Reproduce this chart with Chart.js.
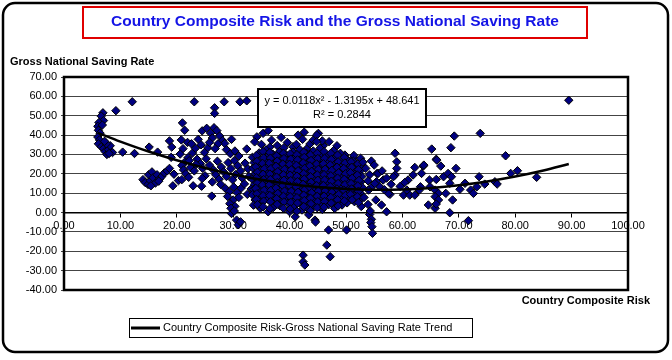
<!DOCTYPE html>
<html>
<head>
<meta charset="utf-8">
<script src="https://cdn.jsdelivr.net/npm/chart.js@4.4.1/dist/chart.umd.min.js"></script>
<style>
  html, body { margin: 0; padding: 0; background: #fff; }
  #wrap { width: 672px; height: 360px; }
</style>
</head>
<body>
<div id="wrap"><canvas id="myChart" width="672" height="360"></canvas></div>
<script>
// [risk, saving rate] pairs
const riskSaving = [
  [6.9,51.5],[6.6,49.8],[7.0,47.5],[6.2,46.5],[6.0,44.5],[6.8,45.2],[6.1,42.5],[6.4,41],[6.0,39],[6.3,37.5],
  [6.1,35.5],[6.6,34],[7.0,33],[7.3,31.5],[7.6,30],[7.9,32.5],[8.2,34.5],[7.5,35.5],[8.6,31],[8.0,30.5],[7.2,36.8],
  [9.2,52.6],[12.1,57.2],[10.4,31.2],[12.5,30.5],[15.1,33.8],[16.6,31.2],
  [14.0,17],[14.4,15.5],[14.9,14.5],[15.3,16.5],[15.0,19.5],[15.6,21],[15.8,18],[16.2,15.2],[16.5,19.5],[17.0,17.5],
  [17.4,18.8],[17.8,20.5],[18.3,21.5],[18.7,22.8],[15.4,13.8],[16.8,16.2],
  [19.3,13.8],[18.7,37],[19.1,33.8],[19,28.5],[19.5,19.8],[20.3,16.5],
  [21.0,46.3],[21.4,42.5],[20.8,37.5],[21.9,36.2],[21.1,33],[20.6,30.2],[22.0,28.4],[21.4,26],[20.9,24.3],[22.4,23.2],
  [21.2,22],[21.6,20],[22.1,18.2],[20.9,17],[22.8,30.8],[23.3,33.2],[22.6,35.5],[23.8,37.8],[24.3,35],[23.6,27.5],
  [24.2,25.2],[23.1,21.5],[24.6,22.8],[25.0,19],[24.5,17.6],[23.4,24.8],[22.2,26.8],[25.2,27.8],[25.5,33.5],[24.9,31],
  [22.9,13.8],[24.4,13.6],[26.2,8.5],[23.1,57.2],[26.7,54.1],[26.7,51.2],[28.4,57.2],[31.2,57.2],[32.4,57.7],
  [24.5,42.2],[25.3,43.5],[26.0,41],[26.6,43.8],[27.1,42.3],[26.3,38.5],[27.6,39.5],[28.1,37.2],[28.5,35.7],[29.7,37.8],
  [25.8,36.2],[27.3,35.5],[26.8,33],[28.8,32.5],[29.5,30.4],[30.3,31.8],[31.0,29.2],[32.4,32.8],[34.2,39.1],[35.3,40.9],
  [36.2,42.3],[33.8,36.5],[35.0,35.2],[36.8,37.4],[37.8,34.6],[38.5,38.8],[39.6,36.2],[41.5,40],[40.6,34],[42.3,37.8],
  [43.6,35.4],[44.2,37.4],[45.1,40.9],[43.0,32.8],[46.0,34.6],[47.5,30.8],[49.8,29.7],[51.3,28.3],[54.5,26.6],
  [36.5,33.8],[39.0,33.5],[41.2,35.2],[42.6,41.5],[44.8,40],[45.8,37],[47.0,36.6],[48.4,34.5],[44.8,36.6],
  [25.8,24.5],[26.5,22],[27.2,26.5],[27.9,23.5],[26.9,19.5],[28.3,21],[27.5,17.2],[28.8,18.6],[26.3,15.8],[27.8,14.5],
  [29.1,25.8],[29.6,22.7],[30.2,26.8],[30.8,24.2],[31.3,21.5],[30.4,19.6],[29.9,16.9],[31.6,17.8],[32.1,25.5],[32.6,22.6],
  [28.6,12.5],[29.3,10.8],[30.1,13.2],[30.7,10.3],[31.4,12.6],[29.0,8.3],[30.0,6.5],[31.0,7.8],[29.4,4.6],[30.3,3.2],
  [29.6,2.2],[29.7,-0.5],[30.6,-3.9],[30.9,-6.3],[31.3,-4.8],[30.2,0.8],[32.0,14.8],[32.8,18.6],[33.2,12.2],[32.5,9.4],
  [33.4,28.5],[33.7,25.8],[33.5,22.9],[33.9,20.1],[33.3,17.4],[33.8,14.6],[33.6,11.9],[33.4,9.2],[33.9,6.5],[33.6,3.8],
  [34.6,30.8],[34.9,27.3],[34.5,24.6],[34.8,21.8],[34.6,19.0],[34.9,16.2],[34.5,13.4],[34.8,10.6],[34.6,7.9],[34.9,5.2],[34.8,2.2],
  [35.8,32.4],[36.1,29.0],[35.7,26.3],[36.0,23.5],[35.8,20.7],[36.1,17.9],[35.7,15.1],[36.0,12.3],[35.9,9.6],[36.2,6.8],[36.2,0.4],
  [37.0,30.2],[37.3,27.6],[36.9,24.8],[37.2,22.0],[37.0,19.3],[37.3,16.5],[36.9,13.7],[37.2,10.9],[37.0,8.1],[37.3,4.9],[37.1,2.6],
  [38.2,31.5],[38.5,28.7],[38.1,25.9],[38.4,23.2],[38.2,20.4],[38.5,17.6],[38.1,14.8],[38.4,12.0],[38.2,9.3],[38.5,6.4],[38.3,3.5],
  [39.4,29.8],[39.7,27.0],[39.3,24.3],[39.6,21.5],[39.4,18.7],[39.7,15.9],[39.3,13.1],[39.6,10.3],[39.4,7.6],[39.7,4.8],[40.0,0.4],
  [40.6,31.2],[40.9,28.4],[40.5,25.6],[40.8,22.8],[40.6,20.0],[40.9,17.2],[40.5,14.5],[40.8,11.7],[40.6,8.9],[40.9,6.1],[40.7,2.9],[41.0,-2.2],
  [41.8,32.6],[42.1,29.6],[41.7,26.8],[42.0,24.1],[41.8,21.3],[42.1,18.5],[41.7,15.7],[42.0,12.9],[41.8,10.2],[42.1,7.4],[41.9,4.5],[42.2,1.3],
  [43.0,30.5],[43.3,27.7],[42.9,25.0],[43.2,22.2],[43.0,19.4],[43.3,16.6],[42.9,13.8],[43.2,11.0],[43.0,8.3],[43.3,5.5],[43.1,2.4],[43.4,-1.2],
  [44.2,31.8],[44.5,28.9],[44.1,26.1],[44.4,23.4],[44.2,20.6],[44.5,17.8],[44.1,15.0],[44.4,12.2],[44.2,9.5],[44.5,6.7],[44.3,3.6],[44.5,-3.9],[44.6,-4.9],
  [45.4,33.2],[45.7,30.1],[45.3,27.3],[45.6,24.5],[45.4,21.7],[45.7,18.9],[45.3,16.1],[45.6,13.3],[45.4,10.6],[45.7,7.8],[45.5,4.7],[45.8,1.6],
  [46.6,29.4],[46.9,26.6],[46.5,23.8],[46.8,21.0],[46.6,18.2],[46.9,15.4],[46.5,12.6],[46.8,9.9],[46.6,7.1],[46.9,4.0],[46.9,-9.0],[46.6,-16.8],[47.2,-22.8],
  [47.8,32.0],[48.1,28.0],[47.7,25.2],[48.0,22.4],[47.8,19.6],[48.1,16.8],[47.7,14.0],[48.0,11.2],[47.8,8.5],[48.1,5.4],[48.0,2.1],
  [49.0,30.6],[49.3,26.8],[48.9,24.0],[49.2,21.2],[49.0,18.4],[49.3,15.6],[48.9,12.8],[49.2,10.0],[49.0,7.2],[49.3,3.9],
  [50.2,27.4],[50.5,24.6],[50.1,21.8],[50.4,19.0],[50.2,16.2],[50.5,13.4],[50.1,10.6],[50.4,7.8],[50.2,5.0],[50.1,-9.0],
  [51.4,29.5],[51.7,25.5],[51.3,22.7],[51.6,19.9],[51.4,17.1],[51.7,14.3],[51.3,11.5],[51.6,8.7],[51.5,5.6],[51.3,26.5],
  [52.6,28.0],[52.9,24.2],[52.5,21.4],[52.8,18.6],[52.6,15.8],[52.9,13.0],[52.5,10.2],[52.8,7.3],[52.7,3.1],
  [34.1,29.5],[34.2,26.4],[34.0,23.6],[34.3,20.8],[34.1,18.0],[34.3,15.2],[34.0,12.5],[34.2,9.7],[34.1,6.8],[34.3,4.1],
  [35.3,31.5],[35.4,28.2],[35.2,25.4],[35.5,22.6],[35.3,19.8],[35.4,17.0],[35.2,14.3],[35.5,11.5],[35.3,8.7],[35.4,5.9],[35.3,3.0],
  [36.5,31.0],[36.6,28.1],[36.4,25.5],[36.7,22.7],[36.5,19.9],[36.6,17.1],[36.4,14.3],[36.7,11.5],[36.5,8.8],[36.6,5.6],[36.5,2.0],
  [37.7,29.3],[37.8,26.6],[37.6,23.9],[37.9,21.1],[37.7,18.3],[37.8,15.5],[37.6,12.7],[37.9,9.9],[37.7,7.2],[37.8,4.3],
  [38.9,30.6],[39.0,27.9],[38.8,25.1],[39.1,22.3],[38.9,19.5],[39.0,16.7],[38.8,13.9],[39.1,11.1],[38.9,8.4],[39.0,5.5],[38.9,2.2],
  [40.1,30.4],[40.2,27.6],[40.0,24.9],[40.3,22.1],[40.1,19.3],[40.2,16.5],[40.0,13.8],[40.3,11.0],[40.1,8.2],[40.2,5.3],[40.1,1.8],
  [41.3,29.9],[41.4,27.2],[41.2,24.4],[41.5,21.6],[41.3,18.8],[41.4,16.0],[41.2,13.3],[41.5,10.5],[41.3,7.7],[41.4,4.9],[41.3,0.7],
  [42.5,31.2],[42.6,28.5],[42.4,25.7],[42.7,22.9],[42.5,20.1],[42.6,17.3],[42.4,14.6],[42.7,11.8],[42.5,9.0],[42.6,6.2],[42.5,3.1],
  [43.7,29.8],[43.8,26.9],[43.6,24.1],[43.9,21.3],[43.7,18.5],[43.8,15.7],[43.6,13.0],[43.9,10.2],[43.7,7.4],[43.8,4.6],[43.7,1.0],
  [44.9,30.6],[45.0,27.9],[44.8,25.1],[45.1,22.3],[44.9,19.5],[45.0,16.7],[44.8,13.9],[45.1,11.1],[44.9,8.4],[45.0,5.6],[44.9,2.5],
  [46.1,31.5],[46.2,28.0],[46.0,25.2],[46.3,22.4],[46.1,19.6],[46.2,16.8],[46.0,14.0],[46.3,11.2],[46.1,8.5],[46.2,5.7],[46.1,2.8],
  [47.3,30.6],[47.4,27.4],[47.2,24.6],[47.5,21.8],[47.3,19.0],[47.4,16.2],[47.2,13.4],[47.5,10.6],[47.3,7.8],[47.4,4.9],
  [48.5,29.7],[48.6,26.2],[48.4,23.4],[48.7,20.6],[48.5,17.8],[48.6,15.0],[48.4,12.2],[48.7,9.4],[48.5,6.6],[48.6,3.4],
  [49.7,28.5],[49.8,25.6],[49.6,22.8],[49.9,20.0],[49.7,17.2],[49.8,14.4],[49.6,11.6],[49.9,8.8],[49.7,6.0],
  [50.9,26.2],[51.0,23.4],[50.8,20.6],[51.1,17.8],[50.9,15.0],[51.0,12.2],[50.8,9.4],[51.1,6.6],
  [52.1,25.1],[52.2,22.2],[52.0,19.4],[52.3,16.6],[52.1,13.8],[52.2,11.0],[52.0,8.2],[52.2,5.2],
  [42.4,-22],[42.4,-25.4],[42.7,-27.1],
  [53.5,22.8],[54.2,19.5],[53.9,16.4],[54.4,12.8],[54.0,11.6],[55.5,20.2],[55.4,15.9],[56.0,13.3],[55.1,15],[56.6,16.8],
  [55.7,20.2],[57.8,9.4],[57.5,9.9],[56.3,3.9],[57.2,0.4],[54.2,-1],[54.5,-3.5],[54.4,-5.2],[54.6,-7.3],[54.7,-10.7],
  [54.3,0.8],[53.9,4.2],[53.2,7.8],[55.3,6.5],[56.8,11.8],[58.7,30.6],[59.0,26.2],[59.0,22.8],[58.7,19.4],[58.4,18.5],
  [60.2,9],[61.3,9],[60.8,11.6],[62.2,9],[62.2,23.3],[63.7,24],[61.0,16.8],[61.9,19.4],[64.6,3.9],[60.4,15.5],
  [59.6,13.5],[58.0,14.6],[57.2,17.8],[56.4,21.5],[55.0,24.5],[53.0,26.0],
  [73.8,40.9],[69.2,39.5],[65.2,32.8],[68.6,33.5],[66.0,27.5],[66.8,24],[63.8,24.5],[69.5,22.8],[78.3,29.3],[79.2,20.2],
  [80.4,21.6],[83.8,18.2],[73.6,18.5],[76.4,15.9],[76.8,14.7],[74.6,14.7],[73.2,13.3],[71.1,15.1],[70.2,12],[72.1,11.6],
  [72.6,9.9],[67.3,18.5],[68.1,20.2],[68.7,18.5],[68.4,15.1],[64.8,16.8],[66.0,17.1],[63.4,20.2],[64.9,13.3],[65.8,11.6],
  [66.4,9.9],[65.8,8.2],[66.4,6.5],[65.8,2.2],[66.0,4.4],[68.9,6.5],[68.4,-0.1],[71.7,-4.2],[63.2,13.3],[63.0,11.6],
  [67.7,9.9],[66.1,27.1],[89.5,58]
];

// trend curve
const trendRisk   = [6, 10, 15, 20, 25, 30, 35, 40, 45, 50, 55, 60, 65, 70, 75, 80, 85, 89.5];
const trendSaving = [41.15, 36.63, 31.5, 26.97, 23.03, 19.68, 16.91, 14.74, 13.16, 12.17, 11.77, 11.95, 12.73, 14.09, 16.05, 18.6, 21.74, 25.06];

const xTicks = [0, 10, 20, 30, 40, 50, 60, 70, 80, 90, 100];
const yTicks = [-40, -30, -20, -10, 0, 10, 20, 30, 40, 50, 60, 70];

const FONT = "'Liberation Sans', Arial, sans-serif";

const decorations = {
  id: "decorations",
  beforeDraw(chart) {
    const c = chart.ctx;
    c.save();
    c.fillStyle = "#fff";
    c.fillRect(0, 0, chart.width, chart.height);
    c.restore();
  },
  afterDraw(chart) {
    const c = chart.ctx;
    const a = chart.chartArea;
    c.save();

    // plot frame
    c.strokeStyle = "#000";
    c.lineWidth = 2.5;
    c.strokeRect(a.left, a.top, a.right - a.left, a.bottom - a.top);

    // outer rounded frame
    c.lineWidth = 2.5;
    c.beginPath();
    c.roundRect(3, 3, 665, 349, 12);
    c.stroke();

    // title box
    c.strokeStyle = "#e00000";
    c.lineWidth = 2;
    c.strokeRect(83, 7, 504, 31);
    c.fillStyle = "#1414e6";
    c.font = "bold 15.5px " + FONT;
    c.textAlign = "center";
    c.textBaseline = "middle";
    c.fillText("Country Composite Risk and the Gross National Saving Rate", 335, 22);

    // axis titles
    c.fillStyle = "#000";
    c.font = "bold 11px " + FONT;
    c.textAlign = "left";
    c.fillText("Gross National Saving Rate", 10, 62);
    c.textAlign = "right";
    c.fillText("Country Composite Risk", 650, 301);

    // equation box
    c.fillStyle = "#fff";
    c.fillRect(258, 89, 168, 38);
    c.strokeStyle = "#000";
    c.lineWidth = 2;
    c.strokeRect(258, 89, 168, 38);
    c.fillStyle = "#000";
    c.font = "11px " + FONT;
    c.textAlign = "center";
    c.fillText("y = 0.0118x\u00b2 - 1.3195x + 48.641", 342, 101);
    c.fillText("R\u00b2 = 0.2844", 342, 115);

    // legend
    c.lineWidth = 1;
    c.strokeRect(129.5, 318.5, 343, 19);
    c.lineWidth = 3;
    c.beginPath();
    c.moveTo(131, 328);
    c.lineTo(160, 328);
    c.stroke();
    c.textAlign = "left";
    c.fillText("Country Composite Risk-Gross National Saving Rate Trend", 163, 328);

    c.restore();
  }
};

const ctx = document.getElementById("myChart").getContext("2d");
new Chart(ctx, {
  type: "scatter",
  data: {
    datasets: [
      {
        type: "line",
        label: "Country Composite Risk-Gross National Saving Rate Trend",
        data: trendRisk.map((x, i) => ({ x: x, y: trendSaving[i] })),
        borderColor: "#000",
        borderWidth: 2.5,
        pointRadius: 0,
        tension: 0.35,
        fill: false,
        order: 0
      },
      {
        label: "Country Composite Risk",
        data: riskSaving.map((p) => ({ x: p[0], y: p[1] })),
        pointStyle: "rectRot",
        pointRadius: 4.2,
        backgroundColor: "#000080",
        borderColor: "#000",
        borderWidth: 1,
        order: 1
      }
    ]
  },
  options: {
    responsive: false,
    animation: false,
    layout: { padding: { left: 0, top: 77, right: 44, bottom: 70 } },
    plugins: {
      legend: { display: false },
      tooltip: { enabled: false },
      title: { display: false }
    },
    scales: {
      x: {
        type: "linear",
        position: { y: 0 },
        min: xTicks[0],
        max: xTicks[xTicks.length - 1],
        afterBuildTicks: (s) => { s.ticks = xTicks.map((v) => ({ value: v })); },
        ticks: {
          autoSkip: false,
          maxRotation: 0,
          padding: 3,
          color: "#000",
          font: { family: FONT, size: 11 },
          callback: (v) => Number(v).toFixed(2)
        },
        grid: { drawOnChartArea: false, color: "#000", tickLength: 4 },
        border: { display: true, color: "#000", width: 1.5 }
      },
      y: {
        min: yTicks[0],
        max: yTicks[yTicks.length - 1],
        afterBuildTicks: (s) => { s.ticks = yTicks.map((v) => ({ value: v })); },
        afterFit: (s) => { s.width = 64; },
        ticks: {
          padding: 4,
          color: "#000",
          font: { family: FONT, size: 11 },
          callback: (v) => Number(v).toFixed(2)
        },
        grid: { color: "#444", lineWidth: 1, tickLength: 3 },
        border: { display: false }
      }
    }
  },
  plugins: [decorations]
});
</script>
</body>
</html>
